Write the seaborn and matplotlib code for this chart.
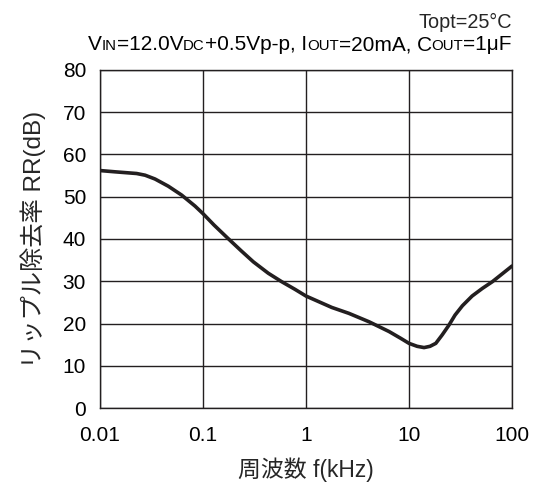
import numpy as np
import pandas as pd
import seaborn as sns
import matplotlib
matplotlib.use("Agg")
import matplotlib.pyplot as plt
from matplotlib.offsetbox import TextArea, HPacker, AnnotationBbox

# ripple rejection vs frequency
freq_khz = [0.01, 0.014, 0.0227, 0.0274, 0.0342, 0.046, 0.062, 0.0836, 0.1, 0.128,
            0.172, 0.235, 0.308, 0.43, 0.58, 0.78, 1.0, 1.78, 2.61, 4.1,
            6.4, 8.3, 10, 12, 14, 16, 18.2, 21, 24.4, 28, 33, 41, 51.5, 64.5, 100]
rr_db = [56.2, 55.9, 55.5, 55.1, 54.2, 52.5, 50.4, 47.8, 46.0, 43.3,
         40.3, 37.2, 34.6, 31.9, 29.9, 28.1, 26.5, 23.8, 22.4, 20.4,
         18.1, 16.5, 15.3, 14.6, 14.3, 14.6, 15.3, 17.3, 19.6, 22.0, 24.2, 26.5, 28.3, 29.9, 33.6]

x_ticks = [0.01, 0.1, 1, 10, 100]
x_ticklabels = ["0.01", "0.1", "1", "10", "100"]
y_ticks = [0, 10, 20, 30, 40, 50, 60, 70, 80]

df = pd.DataFrame({"f": freq_khz, "rr": rr_db})

sns.set_style("white")
plt.rcParams["font.family"] = ["Liberation Sans", "Noto Sans CJK JP", "DejaVu Sans"]

fig = plt.figure(figsize=(5.35, 4.84), dpi=100)
ax = fig.add_axes([100 / 535, 76 / 484, 412 / 535, 338 / 484])

sns.lineplot(data=df, x="f", y="rr", ax=ax, color="#231f20", linewidth=2.6)
ax.set_xscale("log")
ax.set_xlim(0.01, 100)
ax.set_ylim(0, 80)
ax.set_xticks(x_ticks)
ax.set_xticklabels(x_ticklabels)
ax.set_yticks(y_ticks)
ax.minorticks_off()
ax.tick_params(length=0, labelsize=15, colors="black")
ax.tick_params(axis="x", pad=13)
ax.tick_params(axis="y", pad=10)
ax.grid(True, color="#231f20", linewidth=1.0)
for s in ax.spines.values():
    s.set_color("#231f20")
    s.set_linewidth(1.0)

ax.set_xlabel("周波数 f(kHz)", fontsize=16.5, labelpad=9)
ax.set_ylabel("リップル除去率 RR(dB)", fontsize=17.5, labelpad=12)

# condition text at top right
fig.text(512 / 535, 1 - 22 / 484, "Topt=25°C", ha="right", va="center", fontsize=14.3)

big, small = 15, 10.8
parts = [("V", big), ("IN", small), ("=12.0V", big), ("DC", small),
         ("+0.5Vp-p, I", big), ("OUT", small), ("=20mA, C", big), ("OUT", small),
         ("=1μF", big)]
boxes = [TextArea(t, textprops=dict(fontsize=sz, color="black")) for t, sz in parts]
pack = HPacker(children=boxes, align="baseline", pad=0, sep=0)
ab = AnnotationBbox(pack, (512 / 535, 1 - 45 / 484), xycoords="figure fraction",
                    box_alignment=(1, 0.5), frameon=False, pad=0)
fig.add_artist(ab)

fig.savefig("out.png", dpi=100)
